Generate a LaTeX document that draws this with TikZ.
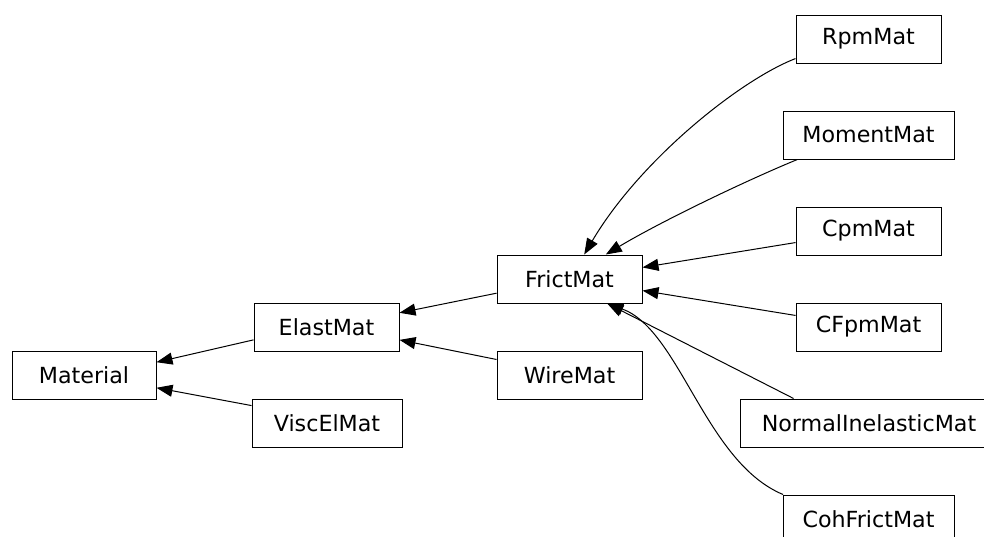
\documentclass[tikz,border=0pt]{standalone}
\usepackage{fontspec}
\setmainfont{DejaVu Sans}
\usepackage{tikz}
\usetikzlibrary{arrows.meta, positioning, shapes}
\tikzset{
  every node/.style={font=\fontsize{22.2}{26}\selectfont},
  cls/.style={draw, rectangle, minimum height=48pt, inner sep=0pt},
  ->, >={Triangle[length=16pt, width=12pt]}
}

\begin{document}
\begin{tikzpicture}[x=1pt, y=-1pt, line width=1pt]
\useasboundingbox (0,0) rectangle (984,536);
\node[cls, minimum width=144pt] (material) at (84,375) {Material};
\node[cls, minimum width=145pt] (elast) at (326.5,327) {ElastMat};
\node[cls, minimum width=150pt] (viscel) at (327,423) {ViscElMat};
\node[cls, minimum width=145pt] (frict) at (569.5,279) {FrictMat};
\node[cls, minimum width=145pt] (wire) at (569.5,375) {WireMat};
\node[cls, minimum width=145pt] (rpm) at (868.5,39) {RpmMat};
\node[cls, minimum width=171pt] (moment) at (868.5,135) {MomentMat};
\node[cls, minimum width=145pt] (cpm) at (868.5,231) {CpmMat};
\node[cls, minimum width=145pt] (cfpm) at (868.5,327) {CFpmMat};
\node[cls, minimum width=258pt] (normal) at (869,423) {NormalInelasticMat};
\node[cls, minimum width=171pt] (cohfrict) at (868.5,519) {CohFrictMat};
\draw (elast.190) -- (material.10);
\draw (viscel.167) -- (material.-10);
\draw (frict.191) -- (elast.11);
\draw (wire.168) -- (elast.-10);
\draw (rpm.195) .. controls (740,80) and (640,160) .. (frict.59);
\draw (moment.199) .. controls (745,181) and (660,222) .. (frict.34);
\draw (cpm.189) -- (frict.9);
\draw (cfpm.171) -- (frict.-9);
\draw (normal.162) -- (frict.-33);
\draw (cohfrict.164) .. controls (705,462) and (680,330) .. (frict.-33);
\end{tikzpicture}
\end{document}
